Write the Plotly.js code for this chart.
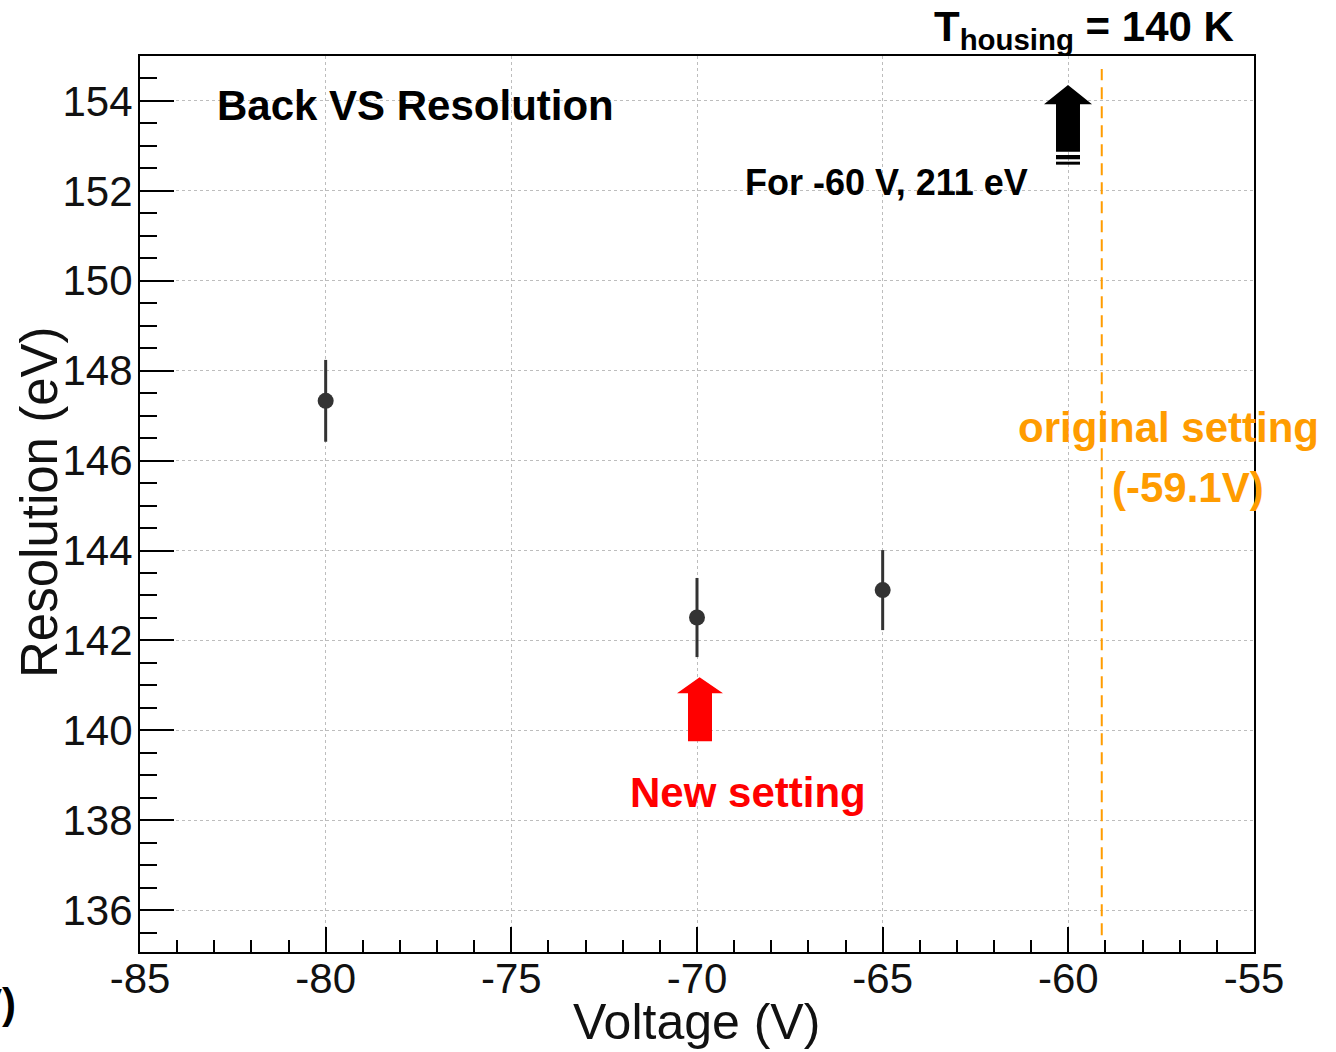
<!DOCTYPE html>
<html>
<head>
<meta charset="utf-8">
<script src="https://cdn.plot.ly/plotly-3.0.1.min.js"></script>
<style>
html,body{margin:0;padding:0;background:#fff;}
#chart{width:1336px;height:1052px;}
</style>
</head>
<body>
<div id="chart"></div>
<script>
// ---- data ----
const voltage = [-80, -70, -65];
const resolution = [147.33, 142.51, 143.12];
const resolutionErr = [0.91, 0.88, 0.89];
const originalSettingV = -59.1;
const xTickVals = [-85, -80, -75, -70, -65, -60, -55];
const yTickVals = [136, 138, 140, 142, 144, 146, 148, 150, 152, 154];

// ---- layout helpers ----
const W = 1336, H = 1052;
const M = {l: 140, r: 82, t: 56, b: 100};
const PW = W - M.l - M.r, PH = H - M.t - M.b;
const px = x => (x - M.l) / PW;
const py = y => (H - M.b - y) / PH;
const FONT = 'Liberation Sans, Arial, Helvetica, sans-serif';
const ORANGE = '#FF9C00';

const trace = {
  x: voltage,
  y: resolution,
  type: 'scatter',
  mode: 'markers',
  marker: {color: '#333333', size: 16},
  error_y: {type: 'data', array: resolutionErr, visible: true, thickness: 3, width: 0, color: '#333333'},
  hoverinfo: 'x+y',
  showlegend: false
};

const axisCommon = {
  showline: true, linecolor: '#000', linewidth: 2, mirror: true,
  ticks: 'inside', tickcolor: '#000', tickwidth: 2,
  showgrid: true, gridcolor: '#bdbdbd', gridwidth: 1, griddash: 'dot',
  zeroline: false,
  tickfont: {family: FONT, size: 42, color: '#111'}
};

const layout = {
  width: W, height: H,
  margin: M,
  paper_bgcolor: '#fff', plot_bgcolor: '#fff',
  font: {family: FONT},
  xaxis: Object.assign({}, axisCommon, {
    range: [-85, -55],
    tickmode: 'array', tickvals: xTickVals, ticktext: xTickVals.map(String),
    ticklen: 25,
    minor: {dtick: 1, tick0: -85, ticklen: 12, ticks: 'inside', tickcolor: '#000', tickwidth: 2, showgrid: false},
    ticklabelstandoff: -11
  }),
  yaxis: Object.assign({}, axisCommon, {
    range: [135.07, 155.0],
    tickmode: 'array', tickvals: yTickVals, ticktext: yTickVals.map(String),
    ticklen: 34,
    minor: {dtick: 0.5, tick0: 136, ticklen: 17, ticks: 'inside', tickcolor: '#000', tickwidth: 2, showgrid: false},
    ticklabelstandoff: -3
  }),
  shapes: [
    // original setting dashed line
    {type: 'line', xref: 'x', yref: 'y', x0: originalSettingV, x1: originalSettingV, y0: 135.44, y1: 154.71,
     line: {color: ORANGE, width: 2, dash: '12px,7px'}},
    // red block arrow (new setting)
    {type: 'path', xref: 'x', yref: 'y',
     path: 'M -70.242 139.759 L -70.242 140.827 L -70.538 140.827 L -69.93 141.183 L -69.30 140.827 L -69.596 140.827 L -69.596 139.759 Z',
     fillcolor: '#FF0000', line: {width: 0}},
    // black block arrow
    {type: 'path', xref: 'x', yref: 'y',
     path: 'M -60.332 152.872 L -60.332 153.927 L -60.655 153.927 L -60.009 154.356 L -59.362 153.927 L -59.686 153.927 L -59.686 152.872 Z',
     fillcolor: '#000', line: {width: 0}},
    {type: 'rect', xref: 'x', yref: 'y', x0: -60.332, x1: -59.686, y0: 152.703, y1: 152.798,
     fillcolor: '#000', line: {width: 0}},
    {type: 'rect', xref: 'x', yref: 'y', x0: -60.332, x1: -59.686, y0: 152.583, y1: 152.649,
     fillcolor: '#000', line: {width: 0}}
  ],
  annotations: [
    {xref: 'paper', yref: 'paper', x: px(40), y: py(502), xanchor: 'center', yanchor: 'middle',
     text: 'Resolution (eV)', textangle: -90, showarrow: false,
     font: {family: FONT, size: 51, color: '#111'}},
    {xref: 'paper', yref: 'paper', x: px(696), y: py(1022), xanchor: 'center', yanchor: 'middle',
     text: 'Voltage (V)', showarrow: false,
     font: {family: FONT, size: 50, color: '#111'}},
    {xref: 'paper', yref: 'paper', x: px(215), y: py(105), xanchor: 'left', yanchor: 'middle',
     text: '<b>Back VS Resolution</b>', showarrow: false,
     font: {family: FONT, size: 42, color: '#000'}},
    {xref: 'paper', yref: 'paper', x: px(743), y: py(182), xanchor: 'left', yanchor: 'middle',
     text: '<b>For -60 V, 211 eV</b>', showarrow: false,
     font: {family: FONT, size: 36, color: '#000'}},
    {xref: 'paper', yref: 'paper', x: px(1236), y: py(30), xanchor: 'right', yanchor: 'middle',
     text: '<b>T<sub>housing</sub> = 140 K</b>', showarrow: false,
     font: {family: FONT, size: 42, color: '#000'}},
    {xref: 'paper', yref: 'paper', x: px(1168), y: py(427), xanchor: 'center', yanchor: 'middle',
     text: '<b>original setting</b>', showarrow: false,
     font: {family: FONT, size: 42, color: ORANGE}},
    {xref: 'paper', yref: 'paper', x: px(1188), y: py(487), xanchor: 'center', yanchor: 'middle',
     text: '<b>(-59.1V)</b>', showarrow: false,
     font: {family: FONT, size: 42, color: ORANGE}},
    {xref: 'paper', yref: 'paper', x: px(748), y: py(792), xanchor: 'center', yanchor: 'middle',
     text: '<b>New setting</b>', showarrow: false,
     font: {family: FONT, size: 42, color: '#FF0000'}},
    {xref: 'paper', yref: 'paper', x: px(18), y: py(1003), xanchor: 'right', yanchor: 'middle',
     text: '<b>V)</b>', showarrow: false,
     font: {family: FONT, size: 42, color: '#000'}}
  ]
};

Plotly.newPlot('chart', [trace], layout, {displayModeBar: false, staticPlot: true});
</script>
</body>
</html>
